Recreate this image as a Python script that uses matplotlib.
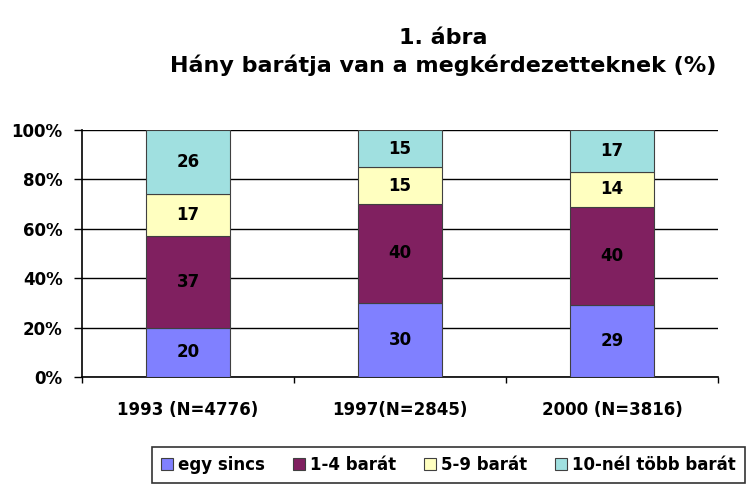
import matplotlib
matplotlib.use("Agg")
import matplotlib.pyplot as plt
import numpy as np

plt.rcParams['font.family'] = ['DejaVu Sans']
plt.rcParams['font.weight'] = 'bold'

categories = ['1993 (N=4776)', '1997(N=2845)', '2000 (N=3816)']
series_names = ['egy sincs', '1-4 barát', '5-9 barát', '10-nél több barát']
egy_sincs = [20, 30, 29]
barat_1_4 = [37, 40, 40]
barat_5_9 = [17, 15, 14]
barat_10 = [26, 15, 17]
colors = ['#8080FF', '#802060', '#FFFFC0', '#A0E0E0']

series = [egy_sincs, barat_1_4, barat_5_9, barat_10]

fig = plt.figure(figsize=(7.5, 4.87), dpi=100)
ax = fig.add_axes([82/750, 1-377/487, 636/750, 247/487])

x = np.arange(len(categories))
bottom = np.zeros(len(categories))
handles = []
for name, vals, col in zip(series_names, series, colors):
    vals = np.array(vals, dtype=float)
    b = ax.bar(x, vals, 0.4, bottom=bottom, color=col, edgecolor='#404040',
               linewidth=0.8, label=name, zorder=3)
    handles.append(b)
    for xi, v, bt in zip(x, vals, bottom):
        ax.text(xi, bt + v/2, '%d' % v, ha='center', va='center',
                fontsize=12, fontweight='bold', color='black', zorder=4)
    bottom += vals

ax.set_xlim(-0.5, 2.5)
ax.set_ylim(0, 100)
ax.set_yticks([0, 20, 40, 60, 80, 100])
ax.set_yticklabels(['0%', '20%', '40%', '60%', '80%', '100%'])
ax.yaxis.grid(True, color='black', linewidth=1.0, zorder=0)
ax.set_xticks(x)
ax.set_xticklabels(categories)
ax.set_xticks([-0.5, 0.5, 1.5, 2.5], minor=True)
ax.tick_params(axis='x', which='major', length=0, pad=17, labelsize=12)
ax.tick_params(axis='x', which='minor', length=4, width=1, direction='out')
ax.tick_params(axis='y', length=6, width=1, direction='out', labelsize=12, pad=8)
for lab in ax.get_xticklabels() + ax.get_yticklabels():
    lab.set_fontweight('bold')

ax.spines['top'].set_visible(False)
ax.spines['right'].set_visible(False)
ax.spines['left'].set_linewidth(1.2)
ax.spines['bottom'].set_linewidth(1.2)

fig.text(443/750, 1-38/487, '1. ábra', ha='center', va='center',
         fontsize=16, fontweight='bold')
fig.text(443/750, 1-65/487, 'Hány barátja van a megkérdezetteknek (%)',
         ha='center', va='center', fontsize=16, fontweight='bold')

leg = fig.legend(handles=handles, labels=series_names, loc='lower right',
                 bbox_to_anchor=(745/750, 4/487), borderaxespad=0,
                 ncol=4, frameon=True, fancybox=False, fontsize=12,
                 handlelength=0.7, handleheight=0.7, handletextpad=0.3,
                 columnspacing=1.7, borderpad=0.55)
leg.get_frame().set_edgecolor('black')
leg.get_frame().set_linewidth(1.2)
for t in leg.get_texts():
    t.set_fontweight('bold')

fig.savefig('out.png', dpi=100)
